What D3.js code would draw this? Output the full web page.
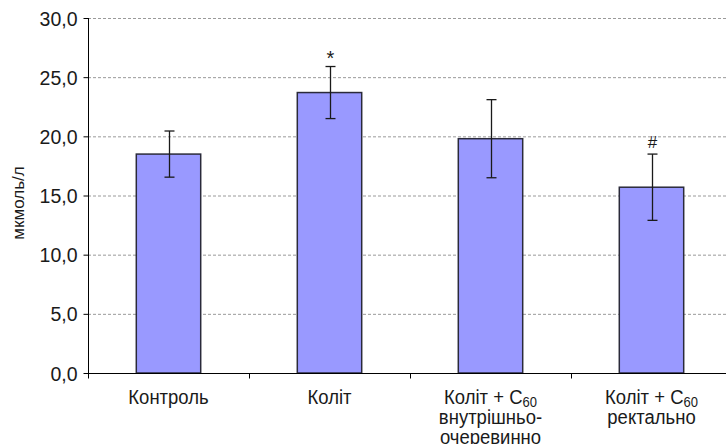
<!DOCTYPE html>
<html><head><meta charset="utf-8">
<script src="https://cdn.jsdelivr.net/npm/d3@7"></script>
<style>body{margin:0;background:#fff}svg{display:block}text{font-family:"Liberation Sans",Arial,sans-serif;fill:#1a1a1a}</style>
</head><body>
<svg id="c" width="726" height="444"></svg>
<script>
const categories = ["Контроль", "Коліт", "Коліт + C60 внутрішньо-очеревинно", "Коліт + C60 ректально"];
const values = [18.5, 23.7, 19.8, 15.7];
const errors = [1.95, 2.2, 3.3, 2.8];
const marks = ["", "*", "", "#"];
const yTicks = [0, 5, 10, 15, 20, 25, 30];
const labelLines = [
  [["Контроль"]],
  [["Коліт"]],
  [["Коліт + C", "60"], ["внутрішньо-"], ["очеревинно"]],
  [["Коліт + C", "60"], ["ректально"]]
];

const svg = d3.select("#c");
const x0 = 88, x1 = 732, yTop = 18, yBot = 373;
const x = d3.scaleBand().domain(categories).range([x0, x1]).padding(0);
const y = d3.scaleLinear().domain([0, 30]).range([yBot, yTop]);
const fmt = v => d3.format(".1f")(v).replace(".", ",");
const FONT = '"Liberation Sans",Arial,sans-serif';

// grid
svg.append("g").selectAll("line").data(yTicks.filter(t => t > 0)).join("line")
  .attr("x1", x0).attr("x2", 726).attr("y1", d => y(d) + 0.5).attr("y2", d => y(d) + 0.5)
  .attr("stroke", "#9a9a9a").attr("stroke-dasharray", "3,2").attr("stroke-width", 1);

// bars
const bw = x.bandwidth() * 0.4;
svg.append("g").selectAll("rect").data(categories).join("rect")
  .attr("x", d => x(d) + (x.bandwidth() - bw) / 2)
  .attr("width", bw)
  .attr("y", (d, i) => y(values[i]))
  .attr("height", (d, i) => yBot - y(values[i]))
  .attr("fill", "#9999ff").attr("stroke", "#2a2a3a").attr("stroke-width", 1.5);

// error bars
const eb = svg.append("g").attr("stroke", "#1a1a1a").attr("stroke-width", 1.3);
categories.forEach((c, i) => {
  const cx = Math.round(x(c) + x.bandwidth() / 2) + 0.5;
  const t = y(values[i] + errors[i]), b = y(values[i] - errors[i]);
  eb.append("line").attr("x1", cx).attr("x2", cx).attr("y1", t).attr("y2", b);
  eb.append("line").attr("x1", cx - 5).attr("x2", cx + 5).attr("y1", t).attr("y2", t);
  eb.append("line").attr("x1", cx - 5).attr("x2", cx + 5).attr("y1", b).attr("y2", b);
  if (marks[i]) {
    svg.append("text").attr("x", cx).attr("y", marks[i] === "*" ? t - 2 : t - 6).attr("text-anchor", "middle")
      .attr("font-size", marks[i] === "*" ? 20 : 17).text(marks[i]);
  }
});

// y axis
const ya = svg.append("g").attr("transform", `translate(${x0 + 0.5},0)`)
  .call(d3.axisLeft(y).tickValues(yTicks).tickFormat(fmt).tickSize(5).tickPadding(6));
ya.select(".domain").attr("stroke", "#000").attr("d", `M0,${yTop}V${yBot}`);
ya.selectAll(".tick line").attr("stroke", "#000");
ya.selectAll(".tick text").attr("font-size", 19.5).attr("fill", "#1a1a1a")
  .attr("dy", "0.36em").style("font-family", FONT);

// x axis
const xa = svg.append("g").attr("transform", `translate(0,${yBot + 0.5})`);
xa.append("line").attr("x1", x0).attr("x2", 726).attr("stroke", "#000");
categories.forEach(c => {
  xa.append("line").attr("x1", Math.round(x(c)) + 0.5).attr("x2", Math.round(x(c)) + 0.5)
    .attr("y1", 0).attr("y2", 5).attr("stroke", "#000");
});

// x labels
categories.forEach((c, i) => {
  const cx = x(c) + x.bandwidth() / 2;
  labelLines[i].forEach((line, j) => {
    const t = svg.append("text")
      .attr("transform", `translate(${cx},${404 + j * 20}) scale(1,1.1)`)
      .attr("text-anchor", "middle").attr("font-size", 18.5);
    t.append("tspan").text(line[0]);
    if (line[1]) t.append("tspan").attr("font-size", 13).attr("dy", 3).text(line[1]);
  });
});

// y label
svg.append("text").attr("transform", "translate(24,203) rotate(-90)")
  .attr("text-anchor", "middle").attr("font-size", 17).text("мкмоль/л");
</script>
</body></html>
